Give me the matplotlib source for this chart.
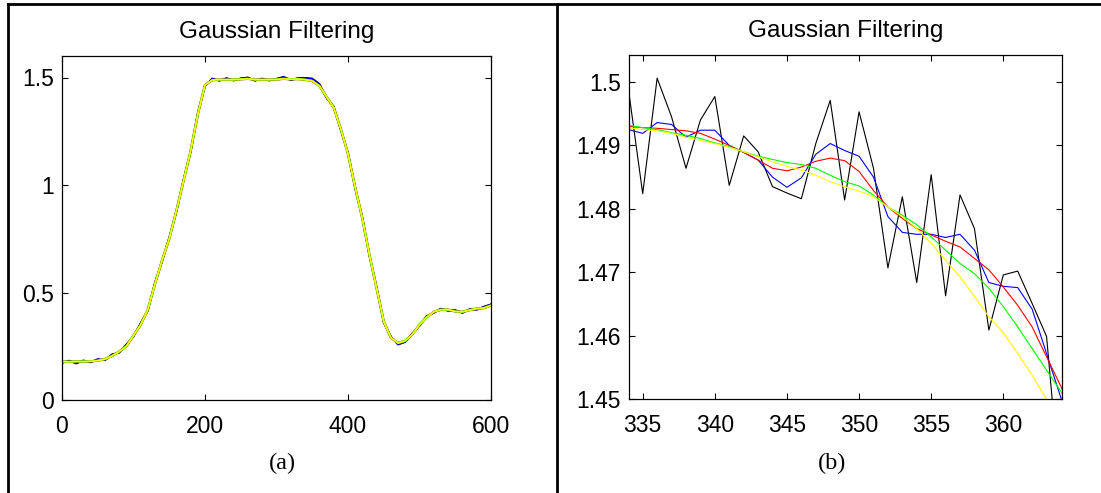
import matplotlib
matplotlib.use("Agg")
import matplotlib.pyplot as plt
from matplotlib.lines import Line2D

plt.rcParams['font.family'] = ['Liberation Sans', 'DejaVu Sans']

# ---------------- (a) full signal, sampled every 10 ----------------
x_full = list(range(0, 601, 10))
y_raw = [0.172, 0.183, 0.170, 0.184, 0.175, 0.190, 0.185, 0.212, 0.220, 0.258,
         0.295, 0.358, 0.415, 0.545, 0.645, 0.755, 0.875, 1.025, 1.155, 1.335,
         1.460, 1.495, 1.485, 1.497, 1.486, 1.496, 1.500, 1.485, 1.495, 1.486,
         1.494, 1.503, 1.488, 1.497, 1.498, 1.495, 1.470, 1.405, 1.365, 1.255,
         1.150, 0.985, 0.850, 0.670, 0.525, 0.360, 0.295, 0.258, 0.270, 0.310,
         0.345, 0.390, 0.405, 0.425, 0.415, 0.418, 0.405, 0.422, 0.420, 0.434,
         0.445]
y_smooth = [0.178, 0.178, 0.179, 0.179, 0.180, 0.183, 0.190, 0.205, 0.225, 0.250,
            0.300, 0.350, 0.420, 0.540, 0.650, 0.750, 0.880, 1.020, 1.160, 1.330,
            1.465, 1.488, 1.490, 1.490, 1.490, 1.492, 1.494, 1.490, 1.490, 1.490,
            1.491, 1.494, 1.492, 1.493, 1.490, 1.484, 1.461, 1.410, 1.360, 1.260,
            1.145, 0.990, 0.845, 0.675, 0.520, 0.365, 0.290, 0.265, 0.275, 0.305,
            0.350, 0.385, 0.410, 0.420, 0.420, 0.412, 0.410, 0.418, 0.425, 0.428,
            0.440]

# ---------------- (b) zoom 334..365 ----------------
x_zoom = list(range(334, 366))
y_black = [1.4990, 1.4824, 1.5006, 1.4945, 1.4864, 1.4940, 1.4977, 1.4837,
           1.4915, 1.4890, 1.4835, 1.4825, 1.4816, 1.4903, 1.4971, 1.4814,
           1.4953, 1.4864, 1.4707, 1.4819, 1.4684, 1.4854, 1.4663, 1.4822,
           1.4769, 1.4609, 1.4696, 1.4702, 1.4651, 1.4599, 1.4345, 1.4300]
y_blue = [1.4925, 1.4919, 1.4936, 1.4933, 1.4913, 1.4924, 1.4924, 1.4900,
          1.4889, 1.4877, 1.4850, 1.4834, 1.4849, 1.4886, 1.4903, 1.4892,
          1.4883, 1.4850, 1.4788, 1.4763, 1.4760, 1.4760, 1.4755, 1.4760,
          1.4735, 1.4684, 1.4678, 1.4676, 1.4642, 1.4572, 1.4502, 1.4430]
y_red = [1.4930, 1.4928, 1.4927, 1.4925, 1.4923, 1.4919, 1.4910, 1.4900,
         1.4889, 1.4877, 1.4864, 1.4860, 1.4866, 1.4875, 1.4880, 1.4876,
         1.4859, 1.4829, 1.4803, 1.4785, 1.4769, 1.4759, 1.4749, 1.4740,
         1.4722, 1.4704, 1.4677, 1.4648, 1.4614, 1.4567, 1.4520, 1.4470]
y_green = [1.4932, 1.4928, 1.4925, 1.4920, 1.4916, 1.4911, 1.4904, 1.4898,
           1.4890, 1.4883, 1.4878, 1.4873, 1.4870, 1.4864, 1.4853, 1.4843,
           1.4836, 1.4822, 1.4803, 1.4790, 1.4775, 1.4756, 1.4735, 1.4714,
           1.4698, 1.4675, 1.4646, 1.4614, 1.4580, 1.4546, 1.4512, 1.4470]
y_yellow = [1.4928, 1.4925, 1.4923, 1.4919, 1.4913, 1.4908, 1.4903, 1.4897,
            1.4890, 1.4882, 1.4874, 1.4867, 1.4861, 1.4853, 1.4843, 1.4835,
            1.4828, 1.4819, 1.4803, 1.4788, 1.4769, 1.4746, 1.4719, 1.4693,
            1.4662, 1.4630, 1.4605, 1.4572, 1.4538, 1.4500, 1.4465, 1.4430]

ticks_a_x = [0, 200, 400, 600]
ticks_a_y = [0, 0.5, 1, 1.5]
labels_a_y = ['0', '0.5', '1', '1.5']
ticks_b_x = [335, 340, 345, 350, 355, 360]
ticks_b_y = [1.45, 1.46, 1.47, 1.48, 1.49, 1.50]
labels_b_y = ['1.45', '1.46', '1.47', '1.48', '1.49', '1.5']

W, H = 1101, 493
fig = plt.figure(figsize=(W / 100, H / 100), dpi=100)
fig.patch.set_facecolor('white')

def px_rect(x0, y0, x1, y1):
    return [x0 / W, 1 - y1 / H, (x1 - x0) / W, (y1 - y0) / H]

ax1 = fig.add_axes(px_rect(62, 56, 491, 400))
ax2 = fig.add_axes(px_rect(629.3, 55.3, 1062, 399.3))

FS = 16.5
for ax in (ax1, ax2):
    ax.tick_params(direction='in', top=True, right=True, length=4.5, width=0.8,
                   labelsize=FS)
    ax.tick_params(axis='x', pad=10.5)
    ax.tick_params(axis='y', pad=6)
    for sp in ax.spines.values():
        sp.set_linewidth(0.9)
    ax.set_title('Gaussian Filtering', fontsize=17.5, pad=13)

# (a)
ax1.plot(x_full, y_raw, color='black', lw=1.3)
ax1.plot(x_full, y_raw, color='blue', lw=1.0)
ax1.plot(x_full, y_smooth, color='red', lw=1.7)
ax1.plot(x_full, y_smooth, color='#00ff00', lw=1.5)
ax1.plot(x_full, y_smooth, color='yellow', lw=1.2)
ax1.set_xlim(0, 600)
ax1.set_ylim(0, 1.6)
ax1.set_xticks(ticks_a_x)
ax1.set_yticks(ticks_a_y)
ax1.set_yticklabels(labels_a_y)

# (b)
ax2.plot(x_zoom, y_black, color='black', lw=0.8)
ax2.plot(x_zoom, y_blue, color='blue', lw=0.8)
ax2.plot(x_zoom, y_red, color='red', lw=0.8)
ax2.plot(x_zoom, y_green, color='#00ff00', lw=0.8)
ax2.plot(x_zoom, y_yellow, color='yellow', lw=0.8)
ax2.set_xlim(334.07, 364.07)
ax2.set_ylim(1.45, 1.5042)
ax2.set_xticks(ticks_b_x)
ax2.set_yticks(ticks_b_y)
ax2.set_yticklabels(labels_b_y)

# captions
fig.text(282 / W, 1 - 463 / H, '(a)', family='Liberation Serif', fontsize=17.5,
         ha='center', va='center')
fig.text(832 / W, 1 - 463 / H, '(b)', family='Liberation Serif', fontsize=17.5,
         ha='center', va='center')

# outer frame lines
lw_frame = 2.0
fig.add_artist(Line2D([8.0 / W, 1.0], [1 - 4 / H, 1 - 4 / H], transform=fig.transFigure,
                      color='black', lw=lw_frame))
fig.add_artist(Line2D([8.0 / W, 8.0 / W], [0, 1 - 4 / H], transform=fig.transFigure,
                      color='black', lw=lw_frame))
fig.add_artist(Line2D([557 / W, 557 / W], [0, 1 - 4 / H], transform=fig.transFigure,
                      color='black', lw=lw_frame))

fig.savefig('out.png', dpi=100)
